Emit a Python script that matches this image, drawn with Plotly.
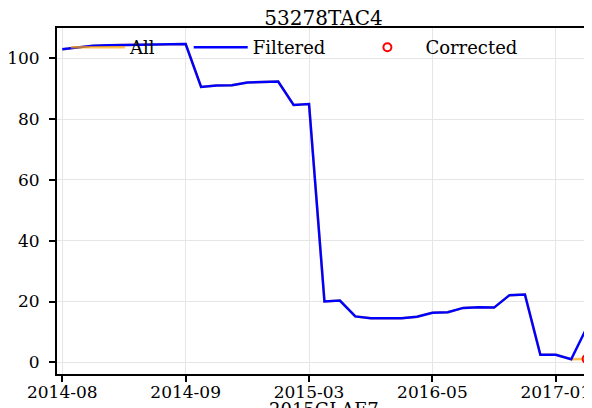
import plotly.graph_objects as go

# ---- data ----
x_index = list(range(35))
all_values = [103.0, 103.7, 104.2, 104.3, 104.4, 104.4, 104.4, 104.5, 104.7,
              90.6, 91.1, 91.2, 92.1, 92.2, 92.4, 84.7, 85.0,
              20.0, 20.3, 15.1, 14.5, 14.5, 14.5, 15.0, 16.3, 16.5, 17.9, 18.1, 18.0,
              22.1, 22.3, 2.5, 2.5, 1.0, 1.1]
filtered_values = [103.0, 103.7, 104.2, 104.3, 104.4, 104.4, 104.4, 104.5, 104.7,
                   90.6, 91.1, 91.2, 92.1, 92.2, 92.4, 84.7, 85.0,
                   20.0, 20.3, 15.1, 14.5, 14.5, 14.5, 15.0, 16.3, 16.5, 17.9, 18.1, 18.0,
                   22.1, 22.3, 2.5, 2.5, 1.0, 11.3]
corrected_x = [34]
corrected_values = [1.1]
tick_positions = [0, 8, 16, 24, 32]
tick_labels = ["2014-08", "2014-09", "2015-03", "2016-05", "2017-01"]
y_ticks = [0, 20, 40, 60, 80, 100]
x_title = "2015GLAE7"

FONT = "DejaVu Serif"

fig = go.Figure()
fig.add_trace(go.Scatter(x=x_index, y=all_values, mode="lines", name="All",
                         line=dict(color="rgba(255,165,0,0.7)", width=2.5),
                         legend="legend"))
fig.add_trace(go.Scatter(x=x_index, y=filtered_values, mode="lines", name="Filtered",
                         line=dict(color="#0000ff", width=2.5),
                         legend="legend2"))
fig.add_trace(go.Scatter(x=corrected_x, y=corrected_values, mode="markers", name="Corrected",
                         marker=dict(symbol="circle-open", size=8, color="#ff0000",
                                     line=dict(width=2, color="#ff0000")),
                         cliponaxis=False, legend="legend3"))

# figure pixel geometry (page is offset by the 8px body margin)
FW, FH = 584, 400
L, R, T, B = 49, 582, 20, 366
W = R - L
H = B - T

def px_x(p):
    return (p - L) / W

def px_y(p):
    return (B - p) / H

leg_common = dict(font=dict(family=FONT, size=18, color="black"),
                  bgcolor="rgba(0,0,0,0)", borderwidth=0,
                  yanchor="middle", xanchor="left")

fig.update_layout(
    width=FW, height=FH,
    margin=dict(l=L, r=FW - R, t=T, b=FH - B),
    paper_bgcolor="white", plot_bgcolor="white",
    font=dict(family=FONT, size=18, color="black"),
    title=dict(text="53278TAC4", x=0.5, xref="paper", xanchor="center",
               y=1 - 9.5 / FH, yref="container", yanchor="middle",
               font=dict(family=FONT, size=20, color="black")),
    legend=dict(x=px_x(58), y=px_y(39.5), itemwidth=54, **leg_common),
    legend2=dict(x=px_x(180.7), y=px_y(39.5), itemwidth=54, **leg_common),
    legend3=dict(x=px_x(341.4), y=px_y(39.5), itemwidth=66, **leg_common),
    showlegend=True,
    annotations=[dict(text=x_title, xref="paper", yref="paper", x=0.5, y=px_y(389),
                      xanchor="center", yanchor="top", showarrow=False,
                      font=dict(family=FONT, size=18, color="black"))],
)

fig.update_xaxes(
    range=[-0.344, 34.22],
    tickmode="array", tickvals=tick_positions, ticktext=tick_labels,
    ticks="outside", ticklen=6, tickwidth=1.5, tickcolor="black",
    tickfont=dict(family=FONT, size=17, color="black"),
    ticklabelstandoff=-4, ticklabeloverflow="allow",
    showline=True, linecolor="black", linewidth=2, mirror=True,
    showgrid=True, gridcolor="#e6e6e6", gridwidth=1, zeroline=False,
    automargin=False,
)
fig.update_yaxes(
    range=[-3.85, 110.0],
    tickmode="array", tickvals=y_ticks,
    ticks="outside", ticklen=6, tickwidth=1.5, tickcolor="black",
    tickfont=dict(family=FONT, size=17, color="black"),
    ticklabelstandoff=6, ticklabeloverflow="allow",
    showline=True, linecolor="black", linewidth=2, mirror=True,
    showgrid=True, gridcolor="#e6e6e6", gridwidth=1, zeroline=False,
    automargin=False,
)

fig.write_html("out.html")
